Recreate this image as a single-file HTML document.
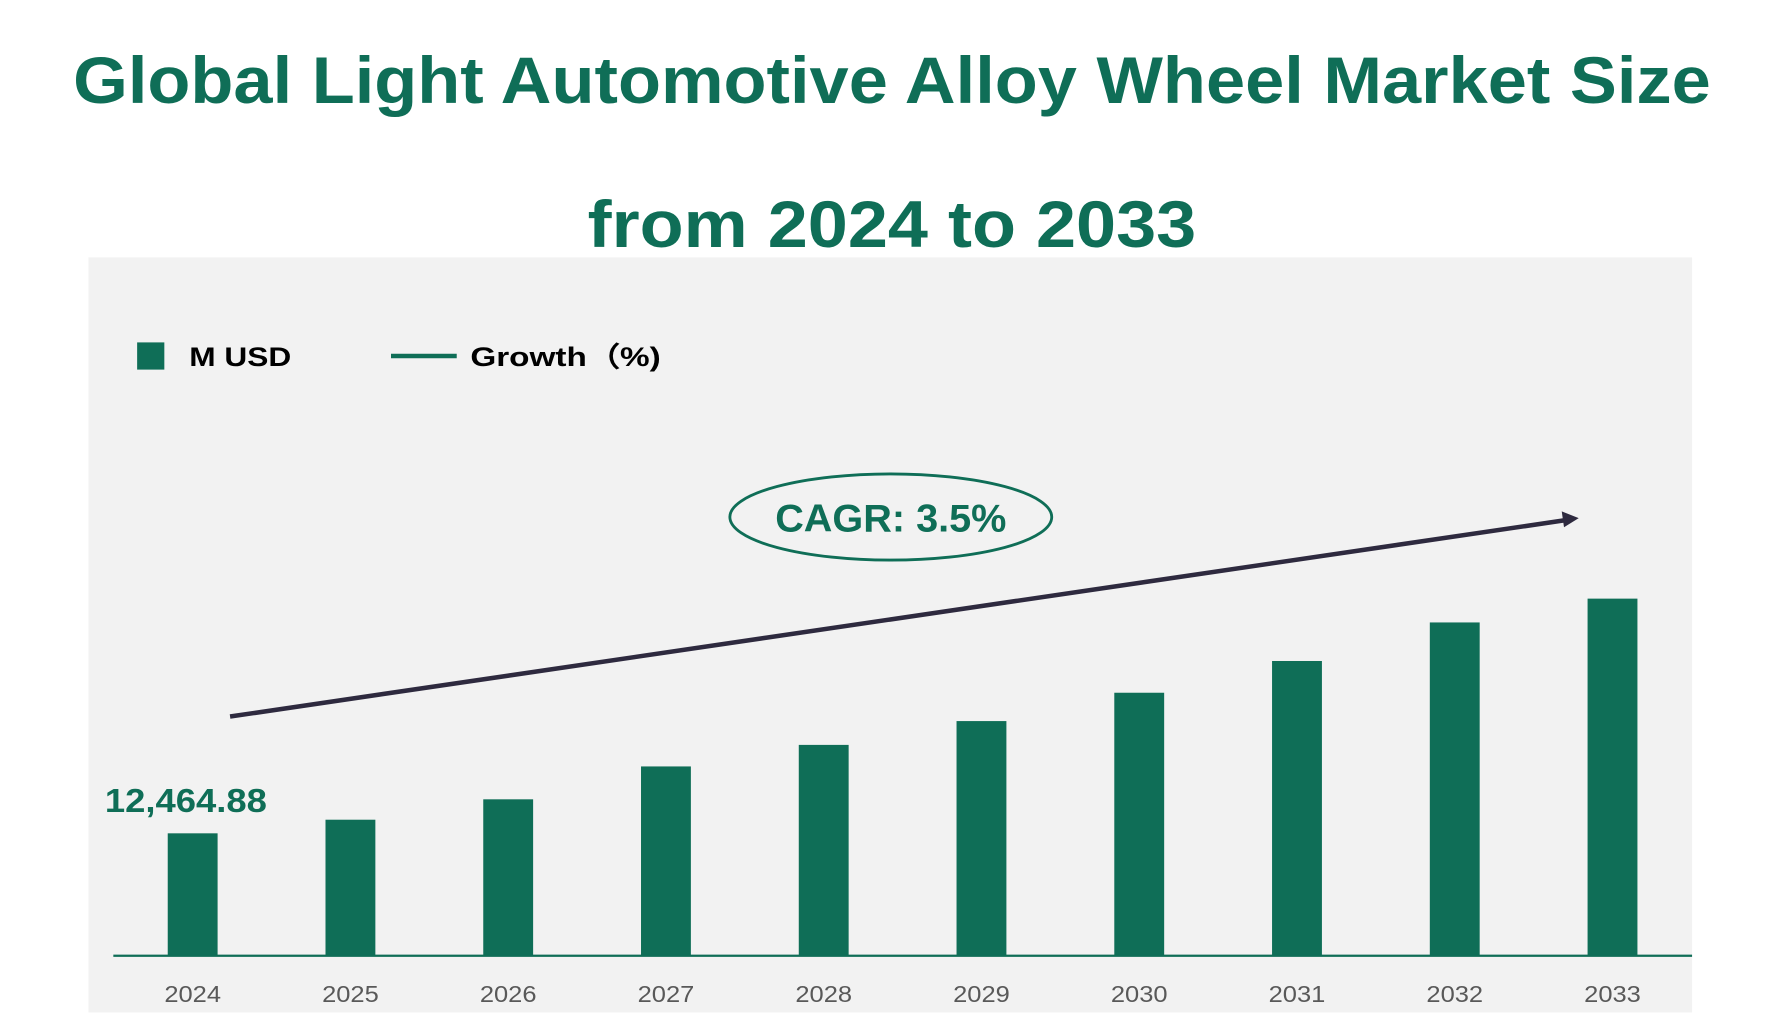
<!DOCTYPE html>
<html><head><meta charset="utf-8"><style>
html,body{margin:0;padding:0;background:#fff;}
svg{display:block;}
text{font-family:"Liberation Sans",sans-serif;}
</style></head><body>
<svg id="chart" width="1768" height="1034" viewBox="0 0 1560 912" preserveAspectRatio="none">
<text x="787" y="91" text-anchor="middle" font-size="58" font-weight="bold" fill="#0f6e57" textLength="1445" lengthAdjust="spacingAndGlyphs">Global Light Automotive Alloy Wheel Market Size</text>
<text x="787" y="218" text-anchor="middle" font-size="58" font-weight="bold" fill="#0f6e57" textLength="537" lengthAdjust="spacingAndGlyphs">from 2024 to 2033</text>
<rect x="78" y="227" width="1415" height="666" fill="#f2f2f2"/>
<rect x="121" y="302" width="24" height="24" fill="#0f6e57"/>
<text x="167" y="323" font-size="24" font-weight="bold" fill="#000" textLength="90" lengthAdjust="spacingAndGlyphs">M USD</text>
<line x1="345" y1="314" x2="403" y2="314" stroke="#0f6e57" stroke-width="4"/>
<text x="415" y="323" font-size="24" font-weight="bold" fill="#000" textLength="168" lengthAdjust="spacingAndGlyphs">Growth（%)</text>
<line x1="203" y1="632" x2="1380" y2="459" stroke="#2e2a3f" stroke-width="4"/>
<polygon points="1393,457 1378,451 1380,465" fill="#2e2a3f"/>
<ellipse cx="786" cy="456" rx="142" ry="38" fill="none" stroke="#0f6e57" stroke-width="2.5"/>
<text x="786" y="469" text-anchor="middle" font-size="34" font-weight="bold" fill="#0f6e57" textLength="204" lengthAdjust="spacingAndGlyphs">CAGR: 3.5%</text>
<g id="bars"></g>
<line x1="100" y1="843" x2="1493" y2="843" stroke="#0f6e57" stroke-width="2"/>
</svg>
<script>
const years = ["2024","2025","2026","2027","2028","2029","2030","2031","2032","2033"];
const values = [12464.88,13850,15927,19274,21467,23891,26776,30008,33932,36356];
const firstLabel = "12,464.88";
const NS = "http://www.w3.org/2000/svg";
const g = document.getElementById("bars");
const baseY = 843, x0 = 170, step = 139.2, bw = 44;
const pxPerUnit = 108 / 12464.88;
function xScale(i){ return x0 + i*step; }
function yScale(v){ return baseY - v*pxPerUnit; }
years.forEach((y,i)=>{
  const r = document.createElementNS(NS,"rect");
  
  
  r.setAttribute("x", xScale(i)-bw/2);
  r.setAttribute("y", yScale(values[i]));
  r.setAttribute("width", bw);
  r.setAttribute("height", baseY - yScale(values[i]));
  r.setAttribute("fill", "#0f6e57");
  g.appendChild(r);
  const t = document.createElementNS(NS,"text");
  
  
  t.setAttribute("x", xScale(i));
  t.setAttribute("y", 884);
  t.setAttribute("text-anchor", "middle");
  t.setAttribute("font-size", "20");
  t.setAttribute("fill", "#595959");
  t.setAttribute("textLength", "50");
  t.setAttribute("lengthAdjust", "spacingAndGlyphs");
  t.textContent = y;
  g.appendChild(t);
});
const vl = document.createElementNS(NS,"text");


vl.setAttribute("x", xScale(0) - 6);
vl.setAttribute("y", yScale(values[0]) - 19);
vl.setAttribute("text-anchor", "middle");
vl.setAttribute("font-size", "29");
vl.setAttribute("font-weight", "bold");
vl.setAttribute("fill", "#0f6e57");
vl.setAttribute("textLength", "143");
vl.setAttribute("lengthAdjust", "spacingAndGlyphs");
vl.textContent = firstLabel;
g.appendChild(vl);
</script>
</body></html>
